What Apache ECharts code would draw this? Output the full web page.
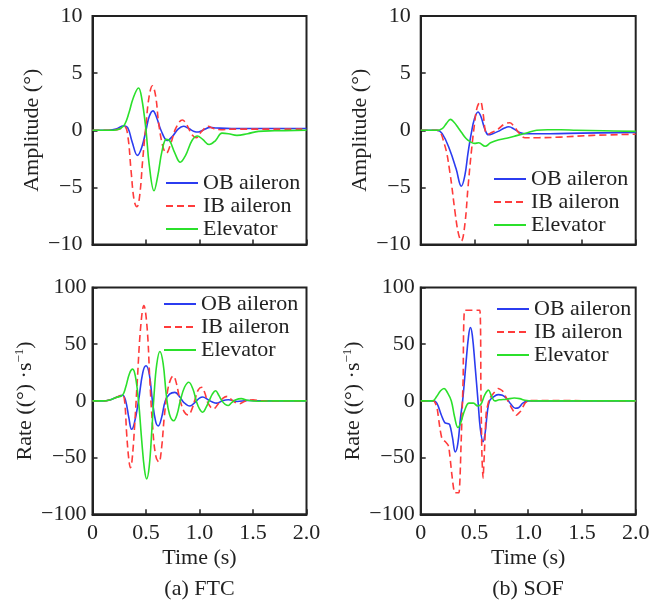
<!DOCTYPE html>
<html><head><meta charset="utf-8">
<script src="https://cdn.jsdelivr.net/npm/echarts@6/dist/echarts.min.js"></script>
<style>html,body{margin:0;padding:0;background:#fff}#c{width:666px;height:606px}</style>
</head><body><div id="c"></div>
<script>
// ---------- data ----------
const seriesNames = ['OB aileron', 'IB aileron', 'Elevator'];
const xTickValues = [0, 0.5, 1.0, 1.5, 2.0];
const ampTicks = [-10, -5, 0, 5, 10];
const rateTicks = [-100, -50, 0, 50, 100];
const panelTitles = ['(a) FTC', '(b) SOF'];

// (a) FTC amplitude (deg)
const ftcAmpOB = [[0,0],[0.15,0],[0.22,0.1],[0.29,0.4],[0.33,0.2],[0.37,-1.0],[0.42,-2.2],[0.46,-1.5],[0.5,0],[0.53,1.2],[0.565,1.7],[0.6,1.1],[0.64,0],[0.7,-0.9],[0.75,-0.5],[0.8,0.1],[0.85,0.35],[0.9,0.15],[0.95,-0.1],[0.99,-0.15],[1.04,0.05],[1.1,0.25],[1.16,0.2],[1.3,0.15],[1.6,0.15],[2.0,0.15]];
const ftcAmpIB = [[0,0],[0.15,0],[0.25,0.1],[0.3,0.3],[0.33,-0.5],[0.36,-3.5],[0.39,-6.2],[0.415,-6.7],[0.44,-5.8],[0.47,-2.5],[0.5,0.5],[0.53,3.0],[0.56,3.9],[0.59,3.0],[0.62,0.5],[0.66,-1.5],[0.69,-2.0],[0.73,-1.2],[0.78,0.2],[0.84,0.9],[0.88,0.5],[0.93,-0.4],[0.97,-0.65],[1.02,-0.1],[1.08,0.35],[1.13,0.15],[1.2,0.05],[1.3,0.1],[2.0,0.1]];
const ftcAmpEl = [[0,0],[0.2,0],[0.26,0.15],[0.3,0.5],[0.34,1.5],[0.38,2.8],[0.43,3.7],[0.46,2.8],[0.5,0],[0.53,-3.0],[0.575,-5.3],[0.61,-4.0],[0.65,-1.8],[0.69,-0.8],[0.72,-0.9],[0.77,-2.0],[0.82,-2.8],[0.87,-2.2],[0.93,-0.9],[0.98,-0.5],[1.03,-0.8],[1.09,-1.25],[1.15,-0.9],[1.21,-0.25],[1.27,-0.3],[1.35,-0.45],[1.45,-0.3],[1.55,-0.1],[1.7,-0.05],[2.0,0]];

// (b) SOF amplitude (deg)
const sofAmpOB = [[0,0],[0.15,0],[0.2,-0.3],[0.27,-1.7],[0.33,-3.4],[0.378,-4.9],[0.41,-4.0],[0.44,-2.0],[0.47,-0.3],[0.5,1.0],[0.533,1.6],[0.56,1.2],[0.6,0],[0.63,-0.4],[0.67,-0.3],[0.72,-0.1],[0.78,0.2],[0.82,0.3],[0.87,0.1],[0.92,-0.2],[0.97,-0.3],[1.2,-0.3],[1.5,-0.25],[2.0,-0.2]];
const sofAmpIB = [[0,0],[0.15,0],[0.22,-1.2],[0.27,-3.6],[0.32,-7.2],[0.35,-9.0],[0.378,-9.7],[0.41,-8.3],[0.44,-5.0],[0.47,-2.0],[0.5,0.5],[0.525,2.0],[0.555,2.5],[0.58,1.5],[0.6,0],[0.62,-0.35],[0.66,-0.2],[0.72,0.1],[0.78,0.55],[0.83,0.65],[0.87,0.3],[0.92,-0.3],[0.97,-0.65],[1.1,-0.65],[1.3,-0.6],[1.6,-0.45],[2.0,-0.35]];
const sofAmpEl = [[0,0],[0.15,0],[0.2,0.15],[0.24,0.6],[0.276,0.95],[0.31,0.7],[0.35,0.2],[0.38,-0.2],[0.42,-0.7],[0.46,-1.0],[0.5,-1.15],[0.54,-1.1],[0.6,-1.4],[0.65,-1.1],[0.72,-0.85],[0.8,-0.7],[0.9,-0.45],[1.0,-0.2],[1.08,0],[1.18,0.05],[1.3,0.05],[1.45,0],[1.7,-0.05],[2.0,-0.1]];

// (a) FTC rate (deg/s)
const ftcRateOB = [[0,0],[0.1,0],[0.15,0.5],[0.22,3],[0.28,5],[0.31,0],[0.34,-15],[0.365,-25],[0.39,-20],[0.43,0],[0.47,25],[0.5,31],[0.53,24],[0.56,0],[0.59,-18],[0.615,-22],[0.645,-15],[0.68,0],[0.72,6],[0.77,7.5],[0.82,3],[0.85,-1],[0.91,-4.5],[0.96,-1],[1.0,2.5],[1.03,3.5],[1.08,1],[1.12,-1],[1.16,-2],[1.21,0],[1.27,1],[1.35,-0.5],[1.45,0.3],[1.6,0],[2.0,0]];
const ftcRateIB = [[0,0],[0.1,0],[0.15,0.5],[0.22,3],[0.28,5],[0.3,0],[0.32,-30],[0.34,-52],[0.355,-59],[0.37,-52],[0.395,-20],[0.42,20],[0.45,65],[0.48,84],[0.51,65],[0.535,20],[0.56,-20],[0.59,-48],[0.62,-54],[0.645,-42],[0.67,-15],[0.7,8],[0.73,19],[0.755,22],[0.78,17],[0.82,0],[0.86,-10],[0.895,-12.5],[0.93,-7],[0.96,2],[0.99,10],[1.02,12],[1.05,7],[1.08,-2],[1.13,-7],[1.18,-2],[1.22,2.5],[1.26,4],[1.31,0],[1.37,-2.5],[1.43,0],[1.5,1],[1.57,0],[2.0,0]];
const ftcRateEl = [[0,0],[0.1,0],[0.15,0.5],[0.22,3],[0.28,5],[0.31,12],[0.345,24],[0.375,28],[0.4,22],[0.43,0],[0.46,-35],[0.485,-60],[0.506,-68.8],[0.53,-58],[0.555,-25],[0.575,5],[0.6,32],[0.63,43.5],[0.66,33],[0.69,5],[0.72,-12],[0.76,-17.5],[0.79,-12],[0.82,0],[0.86,12],[0.9,16.5],[0.94,10],[0.97,0],[1.0,-7],[1.03,-10],[1.06,-6],[1.09,0],[1.12,6],[1.15,9],[1.18,5],[1.21,0],[1.24,-3],[1.27,-4],[1.3,-1.5],[1.34,1],[1.39,2],[1.45,0.5],[1.55,-0.3],[1.7,0],[2.0,0]];

// (b) SOF rate (deg/s)
const sofRateOB = [[0,0],[0.12,0],[0.15,-2],[0.19,-12],[0.223,-19],[0.25,-20],[0.27,-21],[0.295,-32],[0.322,-45],[0.345,-38],[0.37,-15],[0.39,0],[0.42,32],[0.445,57],[0.462,64.7],[0.48,58],[0.505,32],[0.533,0],[0.555,-25],[0.58,-36],[0.6,-28],[0.62,-10],[0.64,0],[0.67,3],[0.72,5.5],[0.76,5],[0.8,2],[0.84,-3],[0.88,-6.5],[0.91,-6],[0.95,-2],[1.0,0],[2.0,0]];
const sofRateIB = [[0,0],[0.12,0],[0.15,-5],[0.18,-25],[0.2,-34],[0.23,-36],[0.26,-40],[0.29,-65],[0.316,-81],[0.356,-81],[0.375,-40],[0.395,20],[0.41,80],[0.55,80],[0.56,10],[0.57,-50],[0.58,-68],[0.595,-40],[0.61,-10],[0.64,2],[0.68,7],[0.72,11],[0.76,9],[0.8,2],[0.85,-7],[0.89,-12.5],[0.93,-9],[0.97,-2],[1.0,0],[1.05,0.3],[2.0,0]];
const sofRateEl = [[0,0],[0.11,0],[0.15,4],[0.185,9],[0.217,11],[0.25,7],[0.285,0],[0.315,-14],[0.347,-23.5],[0.37,-20],[0.41,-8],[0.45,-2],[0.49,-2],[0.53,-4.5],[0.56,-3],[0.595,5],[0.63,9.5],[0.66,4],[0.69,0],[0.73,1],[0.8,1.5],[0.87,2.5],[0.92,2],[0.97,0.5],[1.05,0],[2.0,0]];

// ---------- layout / style ----------
const FONT = 'Liberation Serif';
const TXT = '#222';
const AX = '#222';
const colors = ['#2b3cf0', '#ff3b3b', '#2be02b'];
const lineTypes = ['solid', [7, 4], 'solid'];

const panels = [
  {grid:{left:92.5, top:16, width:214, height:228.5}, ticks:ampTicks, data:[ftcAmpOB, ftcAmpIB, ftcAmpEl], name:'Amplitude (°)', nameGap:40, labelMargin:10, showX:false, legend:{left:165, top:172}},
  {grid:{left:420.7, top:16, width:215, height:228.5}, ticks:ampTicks, data:[sofAmpOB, sofAmpIB, sofAmpEl], name:'Amplitude (°)', nameGap:38, labelMargin:10, showX:false, legend:{left:493, top:168}},
  {grid:{left:92.5, top:287.5, width:214, height:226.8}, ticks:rateTicks, data:[ftcRateOB, ftcRateIB, ftcRateEl], name:'Rate ((°) ·s{sup|−1})', nameGap:53, labelMargin:6, showX:true, legend:{left:163, top:293}},
  {grid:{left:420.7, top:287.5, width:215, height:226.8}, ticks:rateTicks, data:[sofRateOB, sofRateIB, sofRateEl], name:'Rate ((°) ·s{sup|−1})', nameGap:51, labelMargin:6, showX:true, legend:{left:496, top:298}}
];

const minusFmt = v => (v < 0 ? '−' + Math.abs(v) : String(v));
const xFmt = v => (v === 0 ? '0' : v.toFixed(1));

const option = {
  animation: false,
  backgroundColor: '#fff',
  grid: panels.map(p => Object.assign({show:true, borderColor:AX, borderWidth:2, backgroundColor:'transparent'}, p.grid)),
  xAxis: panels.map((p, i) => ({
    type:'value', gridIndex:i, min:xTickValues[0], max:xTickValues[xTickValues.length-1], interval:0.5,
    axisLine:{show:true, onZero:false, lineStyle:{color:AX, width:2}},
    axisTick:{show:true, inside:true, length:5, lineStyle:{color:AX, width:1.5}},
    axisLabel:{show:p.showX, fontFamily:FONT, fontSize:22, color:TXT, margin:8, formatter:xFmt},
    splitLine:{show:false},
    name: p.showX ? 'Time (s)' : '', nameLocation:'middle', nameGap:33,
    nameTextStyle:{fontFamily:FONT, fontSize:22, color:TXT}
  })),
  yAxis: panels.map((p, i) => ({
    type:'value', gridIndex:i, min:p.ticks[0], max:p.ticks[p.ticks.length-1], interval:p.ticks[1]-p.ticks[0],
    axisLine:{show:true, onZero:false, lineStyle:{color:AX, width:2}},
    axisTick:{show:true, inside:true, length:5, lineStyle:{color:AX, width:1.5}},
    axisLabel:{fontFamily:FONT, fontSize:22, color:TXT, margin:p.labelMargin, formatter:minusFmt},
    splitLine:{show:false},
    name:p.name, nameLocation:'middle', nameGap:p.nameGap,
    nameTextStyle:{fontFamily:FONT, fontSize:22, color:TXT, lineHeight:24,
      rich:{sup:{fontFamily:FONT, fontSize:13, color:TXT, verticalAlign:'top', lineHeight:14}}}
  })),
  legend: panels.map(p => ({
    orient:'vertical', left:p.legend.left, top:p.legend.top, padding:0,
    itemWidth:32, itemHeight:14, itemGap:1, data:seriesNames,
    selectedMode:false,
    itemStyle:{opacity:0, borderWidth:0},
    textStyle:{fontFamily:FONT, fontSize:22, color:TXT, lineHeight:22}
  })),
  series: [],
  graphic: [
    {type:'text', x:199.5, y:589, style:{text:panelTitles[0], font:'22px "' + FONT + '"', fill:TXT, textAlign:'center', textVerticalAlign:'middle'}},
    {type:'text', x:528, y:589, style:{text:panelTitles[1], font:'22px "' + FONT + '"', fill:TXT, textAlign:'center', textVerticalAlign:'middle'}}
  ]
};

panels.forEach((p, i) => {
  p.data.forEach((d, j) => {
    option.series.push({
      type:'line', name:seriesNames[j], xAxisIndex:i, yAxisIndex:i, data:d,
      symbol:'none', smooth:(i === 3 && j === 1) ? 0.15 : 0.4,
      lineStyle:{color:colors[j], width:1.6, type:lineTypes[j]},
      itemStyle:{color:colors[j]}
    });
  });
});

const chart = echarts.init(document.getElementById('c'), null, {renderer:'canvas'});
chart.setOption(option);
</script>
</body></html>
